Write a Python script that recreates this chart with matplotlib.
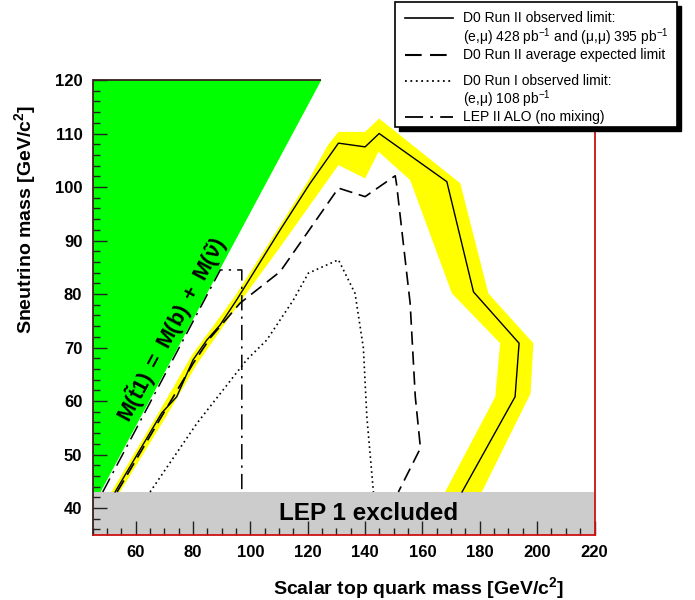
import matplotlib
matplotlib.use('Agg')
import matplotlib.pyplot as plt
from matplotlib.patches import Rectangle, Polygon
from matplotlib.lines import Line2D
from matplotlib.ticker import MultipleLocator

plt.rcParams['font.family'] = ['Liberation Sans', 'DejaVu Sans']
plt.rcParams['mathtext.fontset'] = 'custom'
plt.rcParams['mathtext.rm'] = 'Liberation Sans'
plt.rcParams['mathtext.bf'] = 'Liberation Sans:bold'
plt.rcParams['mathtext.it'] = 'Liberation Sans:italic'
plt.rcParams['mathtext.sf'] = 'Liberation Sans'

# ---------------- data ----------------
obs_x = [52.8, 69.1, 74.3, 80.0, 84.8, 89.4, 95.2, 110.4, 120.7, 130.7, 140.0, 144.9, 168.5, 177.8, 193.7, 192.3, 173.8]
obs_y = [43.0, 57.8, 60.8, 67.7, 71.4, 74.2, 78.9, 92.0, 100.6, 108.2, 107.5, 110.0, 101.0, 80.4, 70.8, 60.8, 43.0]

band_out_x = [51.5, 68.5, 79.5, 94.5, 110.0, 120.3, 127.1, 130.7, 140.0, 144.9, 149.8, 173.2, 183.0, 198.7, 197.7, 180.7]
band_out_y = [43.0, 58.3, 68.5, 79.5, 92.5, 101.3, 107.9, 110.3, 110.3, 112.8, 110.7, 100.7, 80.1, 70.8, 61.4, 43.0]
band_in_x = [167.9, 185.4, 187.1, 170.3, 155.7, 144.7, 140.0, 130.7, 110.4, 96.4, 81.5, 70.5, 54.5]
band_in_y = [43.0, 60.8, 70.8, 80.1, 101.3, 106.6, 101.6, 104.1, 88.8, 78.5, 67.0, 57.0, 43.0]

exp_x = [53.5, 70.0, 80.0, 86.0, 96.4, 110.4, 130.7, 140.0, 150.5, 151.0, 155.7, 157.5, 159.3, 151.6]
exp_y = [43.0, 58.0, 67.0, 71.8, 78.3, 84.2, 99.8, 98.2, 102.1, 100.4, 78.3, 60.8, 51.2, 43.0]

run1_x = [65.0, 81.3, 98.7, 105.7, 115.0, 120.2, 130.7, 136.5, 139.4, 140.6, 142.9]
run1_y = [43.0, 55.8, 67.7, 71.4, 78.9, 83.9, 86.4, 80.1, 69.9, 57.1, 43.0]

lep2_x = [48.5, 89.5, 97.0, 97.0]
lep2_y = [43.0, 84.5, 84.5, 43.0]

m_b = 4.75          # kinematic boundary M(stop) = M(b) + M(snu)
lep1_limit = 43.0   # LEP 1 excluded sneutrino mass
x_min, x_max = 45, 220
y_min, y_max = 35, 120

legend_labels = ["D0 Run II observed limit:",
                 "(e,\u03bc) 428 pb$^{-1}$ and (\u03bc,\u03bc) 395 pb$^{-1}$",
                 "D0 Run II average expected limit",
                 "D0 Run I observed limit:",
                 "(e,\u03bc) 108 pb$^{-1}$",
                 "LEP II ALO (no mixing)"]

# ---------------- figure ----------------
W, H = 695, 600
fig = plt.figure(figsize=(W / 100, H / 100), dpi=100)
ax_l, ax_r, ax_t, ax_b = 92.7, 594.5, 80.0, 534.8
ax = fig.add_axes([ax_l / W, 1 - ax_b / H, (ax_r - ax_l) / W, (ax_b - ax_t) / H])
ax.set_xlim(x_min, x_max)
ax.set_ylim(y_min, y_max)

# green kinematically forbidden region
green = Polygon([(x_min, lep1_limit), (lep1_limit + m_b, lep1_limit),
                 (y_max + m_b, y_max), (x_min, y_max)],
                closed=True, facecolor='#00ff00', edgecolor='none', zorder=1)
ax.add_patch(green)
ax.plot([x_min, y_max + m_b], [y_max, y_max], color='#3a2020', lw=1.3,
        clip_on=False, zorder=6, solid_capstyle='butt')

# grey LEP1 band
ax.add_patch(Rectangle((x_min, y_min), x_max - x_min, lep1_limit - y_min,
                       facecolor='#cccccc', edgecolor='none', zorder=1))

# yellow band
band = list(zip(band_out_x, band_out_y)) + list(zip(band_in_x, band_in_y))
ax.add_patch(Polygon(band, closed=True, facecolor='#ffff00', edgecolor='none', zorder=2))

ax.plot(obs_x, obs_y, color='black', lw=1.0, zorder=4)
ax.plot(exp_x, exp_y, color='black', lw=1.2, dashes=(8, 4), zorder=4)
ax.plot(run1_x, run1_y, color='black', lw=1.2, dashes=(1, 2), zorder=4)
ax.plot(lep2_x, lep2_y, color='black', lw=1.1, dashes=(10, 4, 1.5, 4), zorder=4)

ax.text(141.2, 39, "LEP 1 excluded", fontsize=17.5, fontweight='bold',
        ha='center', va='center', zorder=5)
ax.text(72.5, 73.4, r"$\mathbf{M(\tilde{t}1)\ =\ M(b)\ +\ M(\tilde{\nu})}$",
        fontsize=15.5, rotation=61.8, rotation_mode='anchor',
        ha='center', va='center', zorder=5)

# axes styling
ax.xaxis.set_major_locator(MultipleLocator(20))
ax.xaxis.set_minor_locator(MultipleLocator(5))
ax.yaxis.set_major_locator(MultipleLocator(10))
ax.yaxis.set_minor_locator(MultipleLocator(2))
ax.tick_params(which='both', direction='in', top=False, right=False, color='#222222', width=1.0)
ax.tick_params(which='major', length=10, labelsize=12, pad=7.5)
ax.tick_params(which='minor', length=5)
for lab in ax.get_xticklabels() + ax.get_yticklabels():
    lab.set_fontweight('bold')
ax.set_axisbelow(False)
ax.spines['top'].set_visible(False)
ax.spines['left'].set_color('#3a2020')
ax.spines['left'].set_linewidth(1.3)
for s in ['right', 'bottom']:
    ax.spines[s].set_color('#cc1111')
    ax.spines[s].set_linewidth(1.3)
for s in ax.spines.values():
    s.set_zorder(6)

fig.text(25 / W, 1 - 105 / H, r"Sneutrino mass [GeV/c$^{\mathbf{2}}$]", rotation=90,
         fontsize=14, fontweight='bold', ha='center', va='top')
fig.text(564 / W, 1 - 588 / H, r"Scalar top quark mass [GeV/c$^{\mathbf{2}}$]",
         fontsize=14, fontweight='bold', ha='right', va='center')

# legend box
def fx(px):
    return px / W

def fy(py):
    return 1 - py / H

lx0, lx1, ly0, ly1 = 395, 677, 2, 127
fig.patches.append(Rectangle((fx(lx0 + 4), fy(ly1 + 4)), fx(lx1 - lx0), (ly1 - ly0) / H,
                             transform=fig.transFigure, facecolor='black', edgecolor='black', zorder=9))
fig.patches.append(Rectangle((fx(lx0), fy(ly1)), fx(lx1 - lx0), (ly1 - ly0) / H,
                             transform=fig.transFigure, facecolor='white', edgecolor='black', lw=1.2, zorder=10))
styles = [dict(ls='-', lw=1.2), dict(dashes=(8, 4), lw=1.5), dict(dashes=(1, 2), lw=1.3),
          dict(dashes=(10, 4, 1.5, 4), lw=1.3)]
line_rows = [18, 55, 81, 117]
for st, r in zip(styles, line_rows):
    fig.lines.append(Line2D([fx(405), fx(453)], [fy(r), fy(r)], transform=fig.transFigure,
                            color='black', zorder=11, **st))
text_rows = [18, 37, 55, 81, 99, 117]
for lab, r in zip(legend_labels, text_rows):
    fig.text(fx(463), fy(r), lab, fontsize=10, ha='left', va='center', zorder=11)

fig.savefig('out.png', dpi=100)
